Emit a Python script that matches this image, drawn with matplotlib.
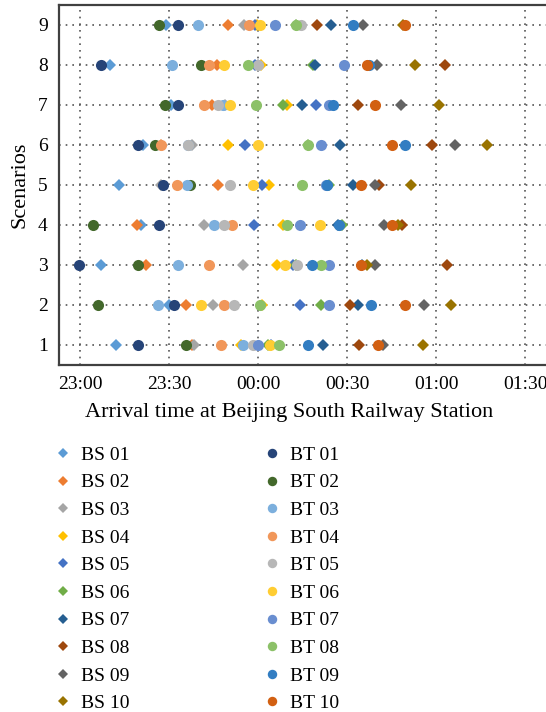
import matplotlib
matplotlib.use("Agg")
import matplotlib.pyplot as plt

plt.rcParams['font.family'] = ['Liberation Serif', 'DejaVu Serif']

# arrival times in minutes after 23:00, scenarios 1..9
scenarios = [1, 2, 3, 4, 5, 6, 7, 8, 9]
tick_minutes = [0, 30, 60, 90, 120, 150]
tick_labels = ["23:00", "23:30", "00:00", "00:30", "01:00", "01:30"]

bs_names = ["BS 01", "BS 02", "BS 03", "BS 04", "BS 05",
            "BS 06", "BS 07", "BS 08", "BS 09", "BS 10"]
bt_names = ["BT 01", "BT 02", "BT 03", "BT 04", "BT 05",
            "BT 06", "BT 07", "BT 08", "BT 09", "BT 10"]

bs01 = [12, 30, 7, 20.6, 13.2, 21.1, 30.7, 10.1, 29]
bs02 = [37.6, 35.7, 22.2, 19.1, 46.6, 27.3, 44.6, 46.1, 49.9]
bs03 = [38.4, 44.7, 55, 41.6, 27.3, 37.6, 48.9, 60, 55.3]
bs04 = [54.2, 61.4, 66.3, 68.3, 63.5, 49.8, 69.9, 61, 59.7]
bs05 = [64.4, 74.1, 71.6, 58.7, 61.4, 55.6, 79.4, 59, 59]
bs06 = [63.3, 81.2, 72.7, 88.2, 84, 76.7, 68.4, 78.4, 72.8]
bs07 = [82, 93.6, 94.9, 87, 92.1, 87.6, 74.7, 79.2, 84.6]
bs08 = [94.1, 90.8, 123.6, 108.6, 100.8, 118.5, 93.6, 123, 79.9]
bs09 = [102, 115.9, 99.4, 102.5, 99.4, 126.2, 108.3, 100, 95.4]
bs10 = [115.4, 124.9, 96.8, 107.3, 111.5, 137.1, 121.1, 112.7, 108.9]

bt01 = [19.6, 31.8, -0.2, 26.7, 28.1, 19.6, 33.1, 7, 33]
bt02 = [35.7, 6.2, 19.6, 4.3, 37.1, 25.3, 28.6, 40.8, 26.6]
bt03 = [55, 26.1, 33.1, 45.3, 36, 36.3, 48.3, 31.1, 39.8]
bt04 = [47.4, 48.5, 43.5, 51.1, 32.6, 27.3, 41.6, 43.5, 57]
bt05 = [58.2, 51.9, 73, 48.5, 50.6, 36.5, 46.6, 60.1, 74.5]
bt06 = [64, 40.8, 69.1, 80.7, 58.2, 60.1, 50.6, 48.5, 60.7]
bt07 = [60.1, 83.9, 83.9, 74.1, 83, 81.2, 84, 89, 65.7]
bt08 = [67.2, 60.7, 81.2, 69.7, 74.7, 76.7, 59.3, 56.7, 72.8]
bt09 = [76.9, 98, 78.1, 87.1, 83.1, 109.5, 85.2, 97.5, 92]
bt10 = [100.5, 109.5, 94.7, 105, 94.7, 105, 99.3, 96.6, 109.5]

bs_data = [bs01, bs02, bs03, bs04, bs05, bs06, bs07, bs08, bs09, bs10]
bt_data = [bt01, bt02, bt03, bt04, bt05, bt06, bt07, bt08, bt09, bt10]

bs_colors = ["#5B9BD5", "#ED7D31", "#A5A5A5", "#FFC000", "#4472C4",
             "#70AD47", "#255E91", "#9E480E", "#636363", "#997300"]
bt_colors = ["#264478", "#43682B", "#7CAFDD", "#F1975A", "#B7B7B7",
             "#FFCD33", "#698ED0", "#8CC168", "#327DC2", "#D26012"]

fig = plt.figure(figsize=(5.46, 7.12), dpi=100)
ax = fig.add_axes([0.108, 0.4874, 0.892, 0.5056])

handles = []
for name, vals, col in zip(bs_names, bs_data, bs_colors):
    h, = ax.plot(vals, scenarios, linestyle="none", marker="D",
                 markersize=6, color=col, markeredgewidth=0, label=name)
    handles.append(h)
for name, vals, col in zip(bt_names, bt_data, bt_colors):
    h, = ax.plot(vals, scenarios, linestyle="none", marker="o",
                 markersize=8, color=col, markeredgewidth=0, label=name)
    handles.append(h)

ax.set_xlim(-7.1, 157)
ax.set_ylim(0.5, 9.5)
ax.set_xticks(tick_minutes)
ax.set_xticklabels(tick_labels)
ax.set_yticks(scenarios)
ax.tick_params(axis="both", labelsize=14, length=0, pad=8)
ax.grid(True, color="#555555", linestyle=(0, (1, 3)), linewidth=1.2)
ax.set_axisbelow(True)
for side in ["left", "top", "bottom"]:
    ax.spines[side].set_color("#404040")
    ax.spines[side].set_linewidth(1.6)
ax.spines["right"].set_visible(False)

ax.set_xlabel("Arrival time at Beijing South Railway Station", fontsize=16,
              labelpad=7.5, x=0.472)
ax.set_ylabel("Scenarios", fontsize=16, labelpad=6)

fig.legend(handles=handles, ncol=2, loc="upper left",
           bbox_to_anchor=(0.066, 0.398), frameon=False, fontsize=14,
           markerscale=0.85, handlelength=1.0, handletextpad=0.42,
           labelspacing=0.514, columnspacing=6.81)

fig.savefig("out.png", dpi=100)
